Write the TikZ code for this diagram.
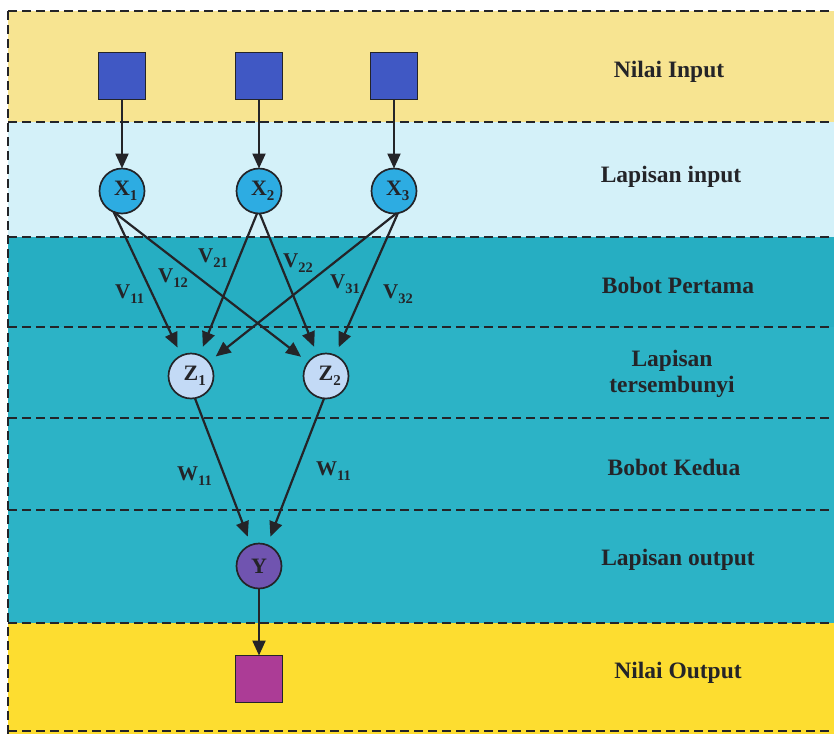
\documentclass[tikz,border=0pt]{standalone}
\usepackage{fontspec}
\setmainfont{Liberation Serif}
\usetikzlibrary{arrows.meta}

% band and node colours
\definecolor{paleyellow}{RGB}{247,228,145}
\definecolor{palecyan}{RGB}{212,241,249}
\definecolor{tealA}{RGB}{38,174,194}
\definecolor{tealB}{RGB}{44,179,198}
\definecolor{deepyellow}{RGB}{253,221,48}
\definecolor{inblue}{RGB}{64,88,196}
\definecolor{xblue}{RGB}{45,172,226}
\definecolor{zblue}{RGB}{195,218,246}
\definecolor{ypurple}{RGB}{112,84,176}
\definecolor{outmagenta}{RGB}{172,60,150}
\definecolor{inkgray}{RGB}{36,36,40}

% bold letter with a lowered index
\newcommand{\wlabel}[2]{#1\raisebox{-5pt}{\fontsize{14.5}{14.5}\selectfont #2}}
% same, but the index overhangs so the letter stays centred in its circle
\newcommand{\nlabel}[2]{#1\rlap{\raisebox{-5.5pt}{\fontsize{15}{15}\selectfont #2}}}

\tikzset{
  divider/.style={draw=inkgray, line width=2pt, dash pattern=on 9pt off 5pt},
  valuebox/.style={rectangle, draw=inkgray, line width=1.3pt, minimum width=47pt,
    minimum height=47pt, inner sep=0pt, outer sep=0pt},
  neuron/.style={circle, draw=inkgray, line width=1.7pt, minimum size=45pt,
    inner sep=0pt, outer sep=0pt, text=inkgray, font=\fontsize{22}{22}\selectfont\bfseries},
  link/.style={draw=inkgray, line width=2.2pt, -{Triangle[length=15pt,width=13pt]}},
  gaplink/.style={link, shorten >=9pt},
  weight/.style={anchor=base west, inner sep=0pt, text=inkgray,
    font=\fontsize{21}{21}\selectfont\bfseries},
  layername/.style={align=center, inner sep=0pt, text=inkgray,
    font=\fontsize{23.5}{26}\selectfont\bfseries},
}

\begin{document}
\begin{tikzpicture}[x=1pt,y=-1pt]
  \useasboundingbox (0,0) rectangle (834,734);

  % layer bands
  \fill[paleyellow] (8,11) rectangle (834,122);
  \fill[palecyan]   (8,122) rectangle (834,237);
  \fill[tealA]      (8,237) rectangle (834,327);
  \fill[tealB]      (8,327) rectangle (834,418);
  \fill[tealB]      (8,418) rectangle (834,510);
  \fill[tealB]      (8,510) rectangle (834,623);
  \fill[deepyellow] (8,623) rectangle (834,734);

  % dashed frame and band separators
  \foreach \yy in {11,122,237,327,418,510,623,731}
    \draw[divider] (8,\yy) -- (834,\yy);
  \draw[divider] (8,11) -- (8,734);

  % input values
  \node[valuebox, fill=inblue] (in1) at (122,76) {};
  \node[valuebox, fill=inblue] (in2) at (259,76) {};
  \node[valuebox, fill=inblue] (in3) at (394,76) {};

  % input layer
  \node[neuron, fill=xblue] (x1) at (122,191) {\nlabel{X}{1}};
  \node[neuron, fill=xblue] (x2) at (259,191) {\nlabel{X}{2}};
  \node[neuron, fill=xblue] (x3) at (394,191) {\nlabel{X}{3}};

  % hidden layer
  \node[neuron, fill=zblue] (z1) at (191,376) {\nlabel{Z}{1}};
  \node[neuron, fill=zblue] (z2) at (326,376) {\nlabel{Z}{2}};

  % output layer
  \node[neuron, fill=ypurple] (y) at (259,566) {Y};
  \node[valuebox, fill=outmagenta] (out) at (259,679) {};

  % connections
  \draw[link] (in1) -- (x1);
  \draw[link] (in2) -- (x2);
  \draw[link] (in3) -- (x3);

  \draw[gaplink] (x1.-112) -- (z1);
  \draw[gaplink] (x1.-112) -- (z2);
  \draw[gaplink] (x2.-95)  -- (z1);
  \draw[gaplink] (x2.-88)  -- (z2);
  \draw[gaplink] (x3.-84)  -- (z1);
  \draw[gaplink] (x3.-80)  -- (z2);

  \draw[gaplink] (z1.-80) -- (y);
  \draw[gaplink] (z2.-95) -- (y);
  \draw[link] (y) -- (out);

  % first weights
  \node[weight] (v11) at (115,298) {\wlabel{V}{11}};
  \node[weight] (v12) at (158,282) {\wlabel{V}{12}};
  \node[weight] (v21) at (198,262) {\wlabel{V}{21}};
  \node[weight] (v22) at (283,267) {\wlabel{V}{22}};
  \node[weight] (v31) at (330,288) {\wlabel{V}{31}};
  \node[weight] (v32) at (383,298) {\wlabel{V}{32}};

  % second weights
  \node[weight] (w1) at (177,480) {\wlabel{W}{11}};
  \node[weight] (w2) at (316,475) {\wlabel{W}{11}};

  % layer names
  \node[layername, anchor=base] (n1) at (669,77)  {Nilai Input};
  \node[layername, anchor=base] (n2) at (671,182) {Lapisan input};
  \node[layername, anchor=base] (n3) at (678,293) {Bobot Pertama};
  \node[layername] (n4) at (672,374) {Lapisan\\tersembunyi};
  \node[layername, anchor=base] (n5) at (674,475) {Bobot Kedua};
  \node[layername, anchor=base] (n6) at (678,565) {Lapisan output};
  \node[layername, anchor=base] (n7) at (678,678) {Nilai Output};
\end{tikzpicture}
\end{document}
